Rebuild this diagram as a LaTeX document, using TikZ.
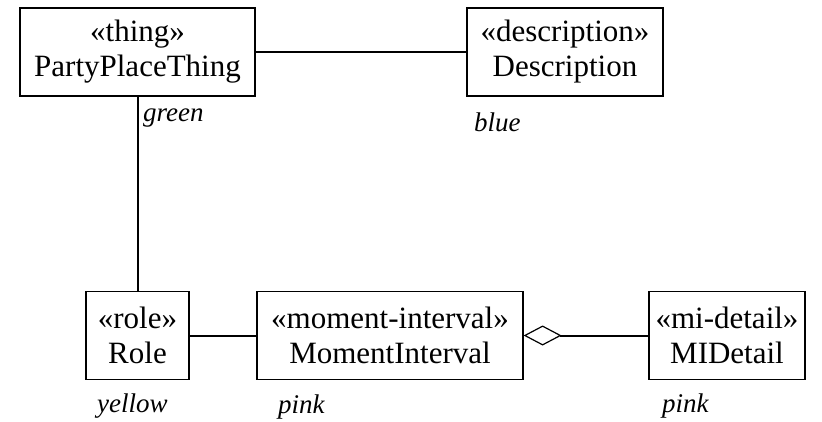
\documentclass[tikz,border=0pt]{standalone}
\usepackage{fontspec}
\setmainfont{Liberation Serif}
\usepackage{tikz}
\usetikzlibrary{arrows.meta}

\begin{document}
\begin{tikzpicture}[x=1pt,y=-1pt,
    classbox/.style={draw,line width=1.2pt,align=center,inner sep=0pt,
      minimum height=88pt,font=\fontsize{31}{35}\selectfont,
      execute at begin node={\rule{0pt}{30pt}}},
    colour/.style={font=\fontsize{27}{30}\selectfont\itshape,inner sep=0pt}]
      \useasboundingbox (0,0) rectangle (822,422);

      % Top row
      \node [classbox,minimum width=235pt] (ppt) at (137.5,52) {«thing»\\PartyPlaceThing};
      \node [classbox,minimum width=196pt] (desc) at (565,52) {«description»\\Description};

      % Bottom row
      \node [classbox,minimum width=103pt] (role) at (137.5,335.5) {«role»\\Role};
      \node [classbox,minimum width=266pt] (mi) at (390,335.5) {«moment-interval»\\MomentInterval};
      \node [classbox,minimum width=156pt] (mid) at (727,335.5) {«mi-detail»\\MIDetail};

      % Colours
      \node [colour,anchor=base west] (green) at (143,122) {green};
      \node [colour,anchor=base west] (blue) at (474,132) {blue};
      \node [colour,anchor=base west] (yellow) at (97,412) {yellow};
      \node [colour,anchor=base west] (pink1) at (278,413) {pink};
      \node [colour,anchor=base west] (pink2) at (662,412) {pink};

      % Edges
      \draw [line width=2pt] (ppt) -- (desc);
      \draw [line width=2pt] (ppt) -- (role);
      \draw [line width=2pt] (role) -- (mi);
      \draw [line width=2pt,-{Diamond[open,length=38pt,width=20pt,line width=1.2pt]}] (mid) -- (mi);
\end{tikzpicture}
\end{document}
